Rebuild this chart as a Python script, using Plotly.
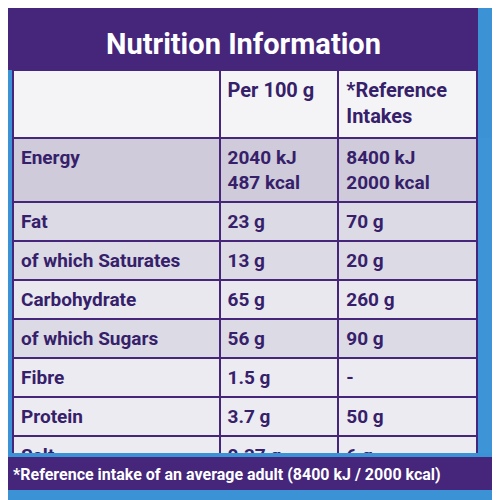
import plotly.graph_objects as go

title = "Nutrition Information"
headers = ["", "Per 100 g", "*Reference<br>Intakes"]
nutrients = ["Energy", "Fat", "of which Saturates", "Carbohydrate", "of which Sugars", "Fibre", "Protein", "Salt"]
per100 = ["2040 kJ<br>487 kcal", "23 g", "13 g", "65 g", "56 g", "1.5 g", "3.7 g", "0.37 g"]
reference = ["8400 kJ<br>2000 kcal", "70 g", "20 g", "260 g", "90 g", "-", "50 g", "6 g"]
footnote = "*Reference intake of an average adult (8400 kJ / 2000 kcal)"

purple = "#45267a"
txt = "#36206a"
blue = "#3b93d6"
row_fill = ["#cfcbda", "#dcdae5", "#dcdae5", "#e9e8ef", "#dcdae5", "#ecebf1", "#ecebf1", "#ecebf1"]

fig = go.Figure(go.Table(
    domain=dict(x=[0.01, 0.94], y=[1 - 445/500, 1 - 62/500]),
    columnwidth=[207, 119, 139],
    header=dict(values=["<b>%s</b>" % h for h in headers], height=68,
                fill_color="#f4f4f7", line=dict(color=purple, width=2),
                font=dict(family="Roboto", size=20, color=txt), align="left"),
    cells=dict(values=[["<b>%s</b>" % v for v in col] for col in (nutrients, per100, reference)],
               height=29, fill_color=[row_fill]*3, line=dict(color=purple, width=2),
               font=dict(family="Roboto", size=19, color=txt), align="left"),
))
fig.update_layout(
    width=500, height=500, margin=dict(l=0, r=0, t=0, b=0, autoexpand=False),
    paper_bgcolor=blue, plot_bgcolor=blue,
    shapes=[
        dict(type="rect", xref="paper", yref="paper", x0=0, x1=0.94, y0=1-62/500, y1=1,
             fillcolor=purple, line_width=0, layer="below"),
        dict(type="rect", xref="paper", yref="paper", x0=0, x1=1, y0=1-482/500, y1=1-449/500,
             fillcolor=purple, line_width=0, layer="below"),
    ],
    annotations=[
        dict(text="<b>%s</b>" % title, xref="paper", yref="paper", x=0.47, y=1-36/500,
             xanchor="center", yanchor="middle",
             showarrow=False, font=dict(family="Roboto", size=29, color="white")),
        dict(text="<b>%s</b>" % footnote, xref="paper", yref="paper", x=0.005, y=1-466/500,
             xanchor="left", yanchor="middle", showarrow=False,
             font=dict(family="Roboto", size=16, color="white")),
    ],
)
fig.write_html("out.html")
